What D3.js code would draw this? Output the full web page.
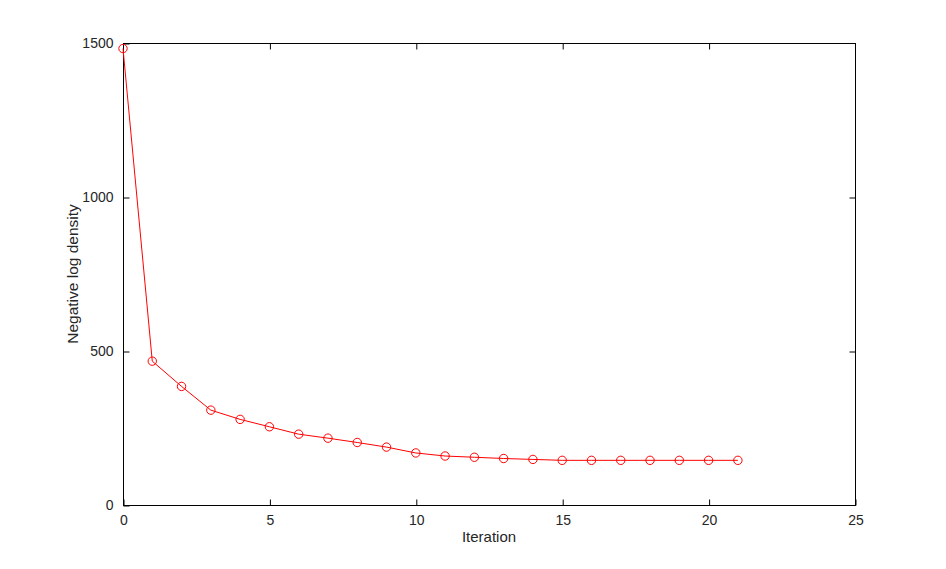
<!DOCTYPE html>
<html>
<head>
<meta charset="utf-8">
<script src="https://cdn.jsdelivr.net/npm/d3@7"></script>
<style>
  body { margin: 0; background: #fff; }
  svg { display: block; font-family: "Liberation Sans", Arial, sans-serif; }
</style>
</head>
<body>
<div class="vis"></div>
<script>
const iterations = [0, 1, 2, 3, 4, 5, 6, 7, 8, 9, 10, 11, 12, 13, 14, 15, 16, 17, 18, 19, 20, 21];
const negLogDensity = [1482, 467, 385, 308, 278, 254, 230, 217, 203, 188, 169, 159, 155, 151, 148, 145, 145, 145, 145, 145, 145, 145];
const xTicks = [0, 5, 10, 15, 20, 25];
const yTicks = [0, 500, 1000, 1500];

const W = 946, H = 569;
const margin = {top: 43, right: 91, bottom: 64, left: 123};
const width = W - margin.left - margin.right;
const height = H - margin.top - margin.bottom;

const svg = d3.select('.vis').append('svg')
    .attr('width', W)
    .attr('height', H);

const g = svg.append('g')
    .attr('transform', `translate(${margin.left},${margin.top})`);

const x = d3.scaleLinear().domain([0, 25]).range([0, width]);
const y = d3.scaleLinear().domain([0, 1500]).range([height, 0]);

const tickLen = 6;
const fmt = d3.format('d');

// frame
g.append('rect')
    .attr('x', 0.5).attr('y', 0.5)
    .attr('width', width).attr('height', height)
    .attr('fill', 'none')
    .attr('stroke', '#000')
    .attr('stroke-width', 1);

// bottom axis
g.append('g')
    .attr('transform', `translate(0.5,${height + 0.5})`)
    .call(d3.axisBottom(x).tickValues(xTicks).tickSizeInner(-tickLen).tickSizeOuter(0).tickPadding(10).tickFormat(fmt));
// top ticks
g.append('g')
    .attr('transform', 'translate(0.5,0.5)')
    .call(d3.axisTop(x).tickValues(xTicks.slice(1, -1)).tickSizeInner(-tickLen).tickSizeOuter(0).tickFormat(''));
// left axis
g.append('g')
    .attr('transform', 'translate(0.5,0.5)')
    .call(d3.axisLeft(y).tickValues(yTicks).tickSizeInner(-tickLen).tickSizeOuter(0).tickPadding(10).tickFormat(fmt));
// right ticks
g.append('g')
    .attr('transform', `translate(${width + 0.5},0.5)`)
    .call(d3.axisRight(y).tickValues(yTicks.slice(1, -1)).tickSizeInner(-tickLen).tickSizeOuter(0).tickFormat(''));

g.selectAll('.domain').remove();
g.selectAll('.tick line').attr('stroke', '#000');
g.selectAll('.tick text')
    .attr('fill', '#262626')
    .style('font-size', '14px')
    .style('font-family', '"Liberation Sans", Arial, sans-serif');

// axis titles
svg.append('text')
    .attr('x', margin.left + width / 2)
    .attr('y', 542)
    .attr('text-anchor', 'middle')
    .attr('fill', '#262626')
    .style('font-size', '15px')
    .text('Iteration');

svg.append('text')
    .attr('transform', `translate(78,${margin.top + height / 2}) rotate(-90)`)
    .attr('text-anchor', 'middle')
    .attr('fill', '#262626')
    .style('font-size', '15.5px')
    .text('Negative log density');

const data = iterations.map((it, i) => ({it, v: negLogDensity[i]}));

const line = d3.line()
    .x(d => x(d.it))
    .y(d => y(d.v));

g.append('path')
    .datum(data)
    .attr('fill', 'none')
    .attr('stroke', '#ff0000')
    .attr('stroke-width', 1)
    .attr('d', line);

g.append('g').selectAll('circle')
    .data(data)
    .join('circle')
    .attr('cx', d => x(d.it))
    .attr('cy', d => y(d.v))
    .attr('r', 4.2)
    .attr('fill', 'none')
    .attr('stroke', '#ff0000')
    .attr('stroke-width', 1);
</script>
</body>
</html>
